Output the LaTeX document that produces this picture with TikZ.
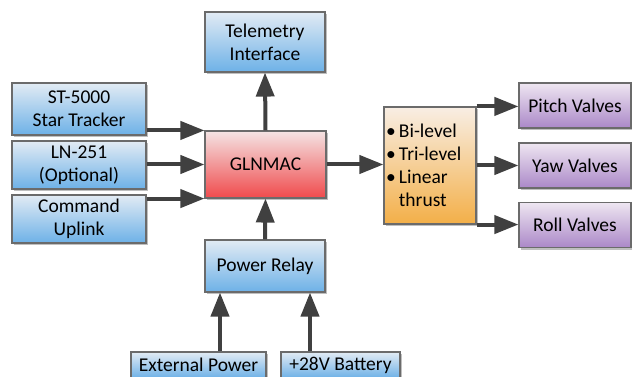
\documentclass[tikz,border=0pt]{standalone}
\usepackage{fontspec}
\setmainfont{Carlito}
\usepackage{xcolor}
\usepackage{tikz}
\usetikzlibrary{arrows.meta,calc,positioning,shadows}

\definecolor{bluetop}{HTML}{E2EBF4}
\definecolor{bluebot}{HTML}{6DB1E7}
\definecolor{redtop}{HTML}{F4E4E4}
\definecolor{redbot}{HTML}{F04A4C}
\definecolor{orangetop}{HTML}{F8EEE4}
\definecolor{orangebot}{HTML}{F3AF48}
\definecolor{purpletop}{HTML}{EEE6F1}
\definecolor{purplebot}{HTML}{AB88C8}
\definecolor{boxline}{HTML}{6B6B6B}
\definecolor{arrowgray}{HTML}{404040}

\begin{document}
\begin{tikzpicture}[
  x=1pt, y=-1pt,
  block/.style={
    draw=boxline,
    line width=1.1pt,
    align=center,
    inner sep=2pt,
    font=\fontsize{19.5}{23}\selectfont,
    drop shadow={shadow xshift=2pt,shadow yshift=-2pt,opacity=0.25,fill=black}
  },
  blue block/.style={block, top color=bluetop, bottom color=bluebot},
  red block/.style={block, top color=redtop, bottom color=redbot},
  orange block/.style={block, top color=orangetop, bottom color=orangebot},
  purple block/.style={block, top color=purpletop, bottom color=purplebot},
  arrow/.style={
    -{Triangle[length=24pt,width=18pt]},
    line width=4pt,
    draw=arrowgray
  }
]
\clip (0,0) rectangle (632,377);

% Sensoren links
\node[blue block, minimum width=134pt, minimum height=52pt] (tracker) at (79,109)
  {ST-5000\\Star Tracker};
\node[blue block, minimum width=134pt, minimum height=48pt] (ln) at (79,165)
  {LN-251\\(Optional)};
\node[blue block, minimum width=134pt, minimum height=48pt] (uplink) at (79,219)
  {Command\\Uplink};

% Mitte
\node[blue block, minimum width=120pt, minimum height=60pt] (telemetry) at (265,42)
  {Telemetry\\Interface};
\node[red block, minimum width=121pt, minimum height=67pt] (glnmac) at (265.5,164.5)
  {GLNMAC};
\node[blue block, minimum width=120pt, minimum height=52pt] (relay) at (265,266)
  {Power Relay};

% Versorgung
\node[blue block, minimum width=135pt, minimum height=26pt] (extpower) at (198.5,365)
  {External Power};
\node[blue block, minimum width=119pt, minimum height=26pt] (battery) at (340.5,365)
  {+28V Battery};

% Steuerung
\node[orange block, minimum width=92pt, minimum height=117pt, align=left,
      inner sep=1pt, text width=88pt] (thrust) at (430,165.5)
  {\textbullet\,Bi-level\\\textbullet\,Tri-level\\\textbullet\,Linear\\
   \hphantom{\textbullet\,}thrust};

% Ventile
\node[purple block, minimum width=112pt, minimum height=45pt] (pitch) at (575,105.5)
  {Pitch Valves};
\node[purple block, minimum width=112pt, minimum height=45pt] (yaw) at (575,165.5)
  {Yaw Valves};
\node[purple block, minimum width=112pt, minimum height=45pt] (roll) at (575,225)
  {Roll Valves};

% Eingaenge -> GLNMAC
\draw[arrow] (tracker.east |- glnmac.north west) -- (glnmac.north west);
\draw[arrow] (ln.east |- glnmac.west) -- (glnmac.west);
\draw[arrow] (uplink.east |- glnmac.south west) -- (glnmac.south west);

% GLNMAC -> Telemetrie, Relais -> GLNMAC
\draw[arrow] (glnmac.north) -- (telemetry.south);
\draw[arrow] (relay.north) -- (glnmac.south);

% Versorgung -> Relais
\draw[arrow] ([xshift=21.5pt]extpower.north) -- ([xshift=21.5pt]extpower.north |- relay.south);
\draw[arrow] ([xshift=-30.5pt]battery.north) -- ([xshift=-30.5pt]battery.north |- relay.south);

% GLNMAC -> Schub
\draw[arrow] (glnmac.east) -- (thrust.west |- glnmac.east);

% Schub -> Ventile
\draw[arrow] (thrust.north east) -- (thrust.north east -| pitch.west);
\draw[arrow] (thrust.east |- yaw.west) -- (yaw.west);
\draw[arrow] (thrust.south east) -- (thrust.south east -| roll.west);

\end{tikzpicture}
\end{document}
